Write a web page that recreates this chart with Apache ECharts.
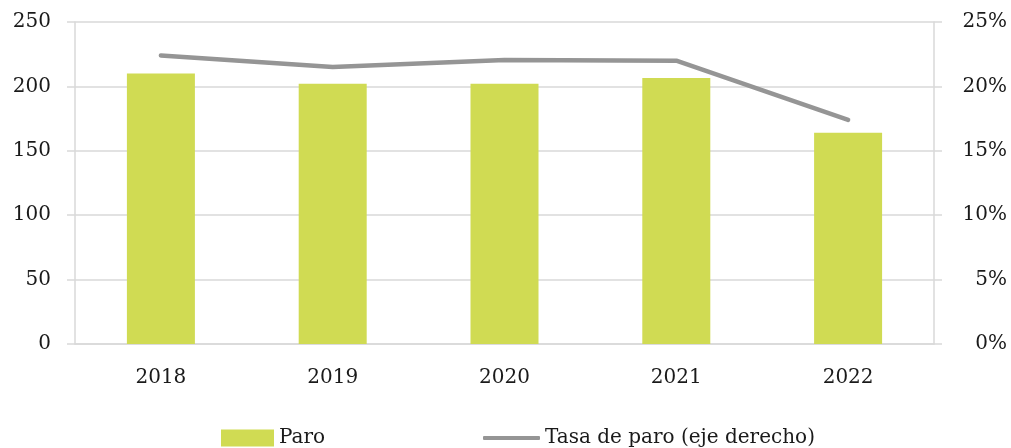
<!DOCTYPE html>
<html>
<head>
<meta charset="utf-8">
<script src="https://cdn.jsdelivr.net/npm/echarts@6/dist/echarts.min.js"></script>
<style>
  html, body { margin: 0; padding: 0; background: #fff; }
  #chart { width: 1011px; height: 448px; }
</style>
</head>
<body>
<div id="chart"></div>
<script>
// datos
const years = ["2018", "2019", "2020", "2021", "2022"];
const paro = [210, 202, 202, 206.5, 164];
const tasaParo = [22.4, 21.5, 22.05, 22.0, 17.4];

const fontFam = "DejaVu Serif";
const gris = "#d9d9d9";

const chart = echarts.init(document.getElementById("chart"));
chart.setOption({
  animation: false,
  textStyle: { fontFamily: fontFam, color: "#1a1a1a" },
  grid: { left: 75, right: 77, top: 22, bottom: 104, containLabel: false },
  legend: [
    {
      left: 216, top: 423,
      itemWidth: 53, itemHeight: 17, icon: "rect",
      textStyle: { fontFamily: fontFam, fontSize: 20, color: "#1a1a1a" },
      data: ["Paro"]
    },
    {
      left: 478, top: 423,
      itemWidth: 57, itemHeight: 4, icon: "roundRect",
      textStyle: { fontFamily: fontFam, fontSize: 20, color: "#1a1a1a" },
      data: ["Tasa de paro (eje derecho)"]
    }
  ],
  xAxis: {
    type: "category",
    data: years,
    axisLine: { lineStyle: { color: gris, width: 1.5 } },
    axisTick: { length: 8, lineStyle: { color: gris, width: 1.5 } },
    axisLabel: { fontSize: 20, margin: 24, color: "#1a1a1a", fontFamily: fontFam }
  },
  yAxis: [
    {
      type: "value", min: 0, max: 250, interval: 50,
      axisLine: { show: true, lineStyle: { color: gris, width: 1.5 } },
      axisTick: { show: true, length: 8, lineStyle: { color: gris, width: 1.5 } },
      splitLine: { lineStyle: { color: gris, width: 1.5 } },
      axisLabel: { fontSize: 20, margin: 24, color: "#1a1a1a", fontFamily: fontFam }
    },
    {
      type: "value", min: 0, max: 25, interval: 5, position: "right",
      axisLine: { show: true, lineStyle: { color: gris, width: 1.5 } },
      axisTick: { show: true, length: 8, lineStyle: { color: gris, width: 1.5 } },
      splitLine: { show: false },
      axisLabel: {
        fontSize: 20, margin: 73, align: "right", color: "#1a1a1a", fontFamily: fontFam,
        formatter: v => v + "%"
      }
    }
  ],
  series: [
    {
      name: "Paro",
      type: "bar",
      data: paro,
      barWidth: 68,
      itemStyle: { color: "#d0db53" }
    },
    {
      name: "Tasa de paro (eje derecho)",
      type: "line",
      yAxisIndex: 1,
      data: tasaParo,
      symbol: "none",
      lineStyle: { color: "#959595", width: 4.5, cap: "round", join: "round" },
      itemStyle: { color: "#959595" }
    }
  ]
});
</script>
</body>
</html>
